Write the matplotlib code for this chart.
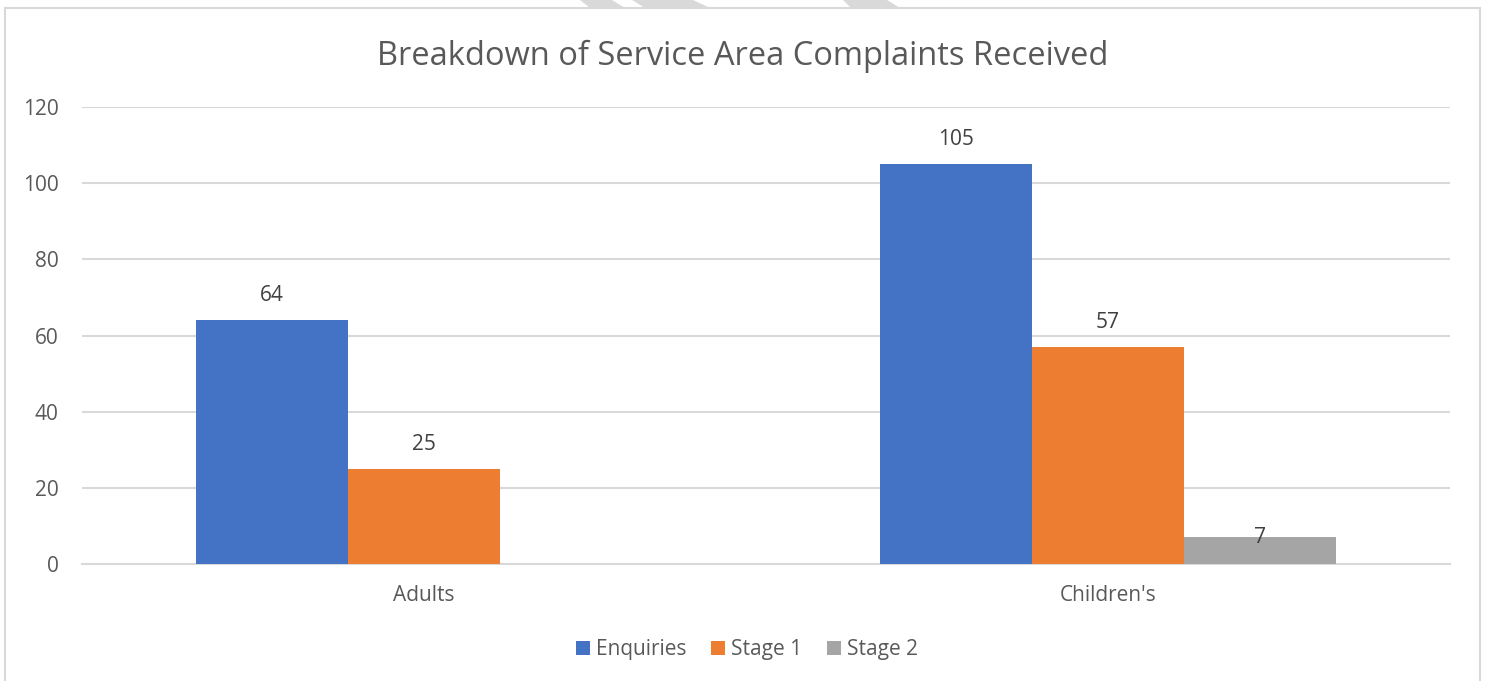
import numpy as np
import matplotlib; matplotlib.use("Agg"); import matplotlib.pyplot as plt
from matplotlib.patches import Rectangle, Polygon

plt.rcParams["font.family"] = ["Open Sans", "DejaVu Sans"]

categories = ["Adults", "Children's"]
series = ["Enquiries", "Stage 1", "Stage 2"]
enquiries = [64, 105]
stage1 = [25, 57]
stage2 = [0, 7]
yticks = [0, 20, 40, 60, 80, 100, 120]

colors = ["#4472C4", "#ED7D31", "#A5A5A5"]
TXT = "#595959"
GRID = "#D9D9D9"
W, H = 1485, 681

fig = plt.figure(figsize=(W/100, H/100), dpi=100)
ax = fig.add_axes([82/W, 1-564/H, 1368/W, 457/H])

# chart border + the bit of watermark poking in at the top
fig.patches.append(Rectangle((5/W, -0.05), 1475/W, 1.05 - 8/H, transform=fig.transFigure,
                             fill=False, edgecolor=GRID, lw=1.5))
for pts in [[(580, 0), (612, 0), (625, 8), (590, 8)],
            [(632, 0), (693, 0), (710, 8), (645, 8)],
            [(843, 0), (887, 0), (900, 8), (851, 8)]]:
    fig.patches.append(Polygon([(px/W, 1-py/H) for px, py in pts], closed=True,
                               transform=fig.transFigure, color=GRID, lw=0))

x = np.arange(len(categories))
w = 152/684
for i, (name, vals, c) in enumerate(zip(series, [enquiries, stage1, stage2], colors)):
    xs = x + (i - 1) * w
    ax.bar(xs, vals, width=w, color=c, label=name, zorder=3)
    for xi, v in zip(xs, vals):
        if v == 0:
            continue
        if v < 10:
            ax.text(xi, v, str(v), ha="center", va="center", fontsize=15, color="#404040", zorder=4)
        else:
            ax.annotate(str(v), (xi, v), xytext=(0, 17.5), textcoords="offset points",
                        ha="center", va="center", fontsize=15, color="#404040")

ax.set_xlim(-0.5, 1.5)
ax.set_ylim(0, 120)
ax.set_yticks(yticks)
ax.set_xticks(x)
ax.set_xticklabels(categories)
ax.grid(axis="y", color=GRID, lw=1.5, zorder=0)
for s in ["top", "right", "left"]:
    ax.spines[s].set_visible(False)
ax.spines["bottom"].set_color(GRID)
ax.spines["bottom"].set_linewidth(1.5)
ax.tick_params(axis="both", length=0, labelsize=15, labelcolor=TXT)
ax.tick_params(axis="x", pad=15)
ax.tick_params(axis="y", pad=17)

fig.text(743/W, 1-56/H, "Breakdown of Service Area Complaints Received", ha="center", va="center",
         fontsize=23.5, color=TXT)

ax.legend(loc="center", bbox_to_anchor=(747/W, 1-650/H), bbox_transform=fig.transFigure,
          ncol=3, frameon=False, fontsize=15, labelcolor=TXT, handlelength=0.65, handleheight=0.65,
          handletextpad=0.3, columnspacing=1.2)

fig.savefig("out.png", dpi=100)
